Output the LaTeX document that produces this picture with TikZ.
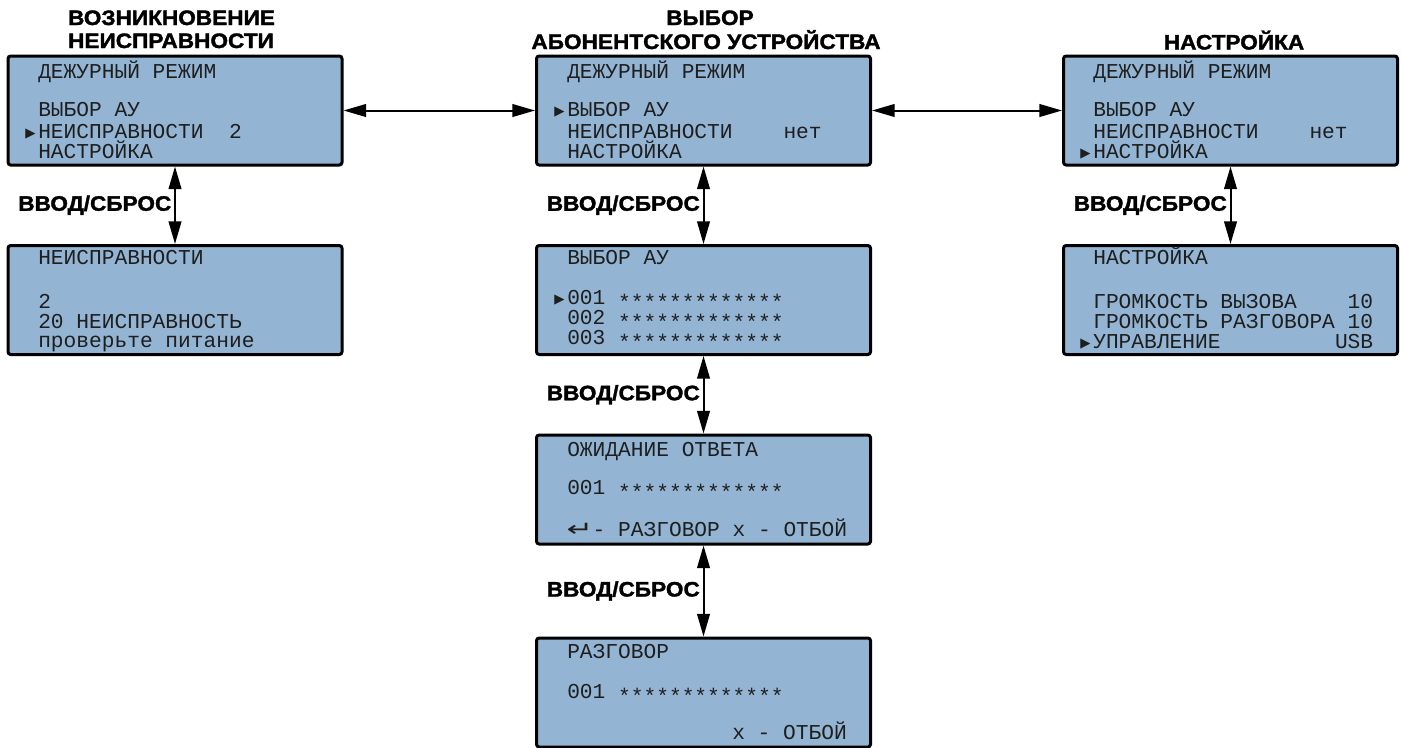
\documentclass[tikz,border=0pt]{standalone}
\usepackage{fontspec}
\usetikzlibrary{arrows.meta}

\newfontfamily\lcdfont{Liberation Mono}
\newfontfamily\headfont{Liberation Sans}[FakeStretch=1.08,FakeBold=1.6]
\newfontfamily\symfont{DejaVu Sans}

\definecolor{lcdblue}{HTML}{93B5D3}
\definecolor{lcdink}{HTML}{1E1E1E}

\newcommand*{\lcdcursor}{\llap{\symfont\fontsize{10}{10}\selectfont\raisebox{0.05em}{▶}\hspace{2pt}}}
\newcommand*{\lcdstars}{\raisebox{-0.25em}{*************}}
\newcommand*{\lcdenter}{\makebox[1.2em][c]{\symfont\scalebox{1.5}[1]{↵}}}

\begin{document}
\begin{tikzpicture}
[
	x=0.75pt,
	y=-0.75pt,
	lcd/.style={draw,line width=2.25pt,rounded corners=2pt,fill=lcdblue,minimum width=250.5pt,minimum height=81.75pt,inner sep=0pt},
	lcdtext/.style={anchor=base west,inner sep=0pt,text=lcdink,font=\lcdfont\fontsize{15.9}{16}\selectfont},
	heading/.style={anchor=base,inner sep=0pt,font=\headfont\bfseries\fontsize{15.7}{17}\selectfont},
	keylabel/.style={midway,left,inner sep=2pt,font=\headfont\bfseries\fontsize{15.7}{17}\selectfont},
	link/.style={{Triangle[length=17pt,width=9.5pt]}-{Triangle[length=17pt,width=9.5pt]},line width=1.5pt}
]
	\useasboundingbox (0,0) rectangle (1402,747);

	% screens
	\node[lcd] (fault) at (175,110.5) {};
	\node[lcd] (faultlist) at (175,300) {};
	\node[lcd] (select) at (703.5,110.5) {};
	\node[lcd] (devlist) at (703.5,300) {};
	\node[lcd] (wait) at (703.5,489.5) {};
	\node[lcd] (talk) at (703.5,692.5) {};
	\node[lcd] (setup) at (1230.5,110.5) {};
	\node[lcd] (setuplist) at (1230.5,300) {};

	% headings
	\node[heading] (h-fault-1) at (171.5,25) {ВОЗНИКНОВЕНИЕ};
	\node[heading] (h-fault-2) at (171,48) {НЕИСПРАВНОСТИ};
	\node[heading] (h-select-1) at (710,25) {ВЫБОР};
	\node[heading] (h-select-2) at (706,49) {АБОНЕНТСКОГО УСТРОЙСТВА};
	\node[heading] (h-setup) at (1234,49.5) {НАСТРОЙКА};

	% transitions
	\draw[link] (fault.east) -- (select.west);
	\draw[link] (select.east) -- (setup.west);
	\draw[link] (fault) -- (faultlist) node[keylabel] {ВВОД/СБРОС};
	\draw[link] (select) -- (devlist) node[keylabel] {ВВОД/СБРОС};
	\draw[link] (devlist) -- (wait) node[keylabel] {ВВОД/СБРОС};
	\draw[link] (wait) -- (talk) node[keylabel] {ВВОД/СБРОС};
	\draw[link] (setup) -- (setuplist) node[keylabel] {ВВОД/СБРОС};

	% fault screens
	\node[lcdtext] (fault-1) at (38,78) {ДЕЖУРНЫЙ РЕЖИМ};
	\node[lcdtext] (fault-2) at (38,116) {ВЫБОР АУ};
	\node[lcdtext] (fault-3) at (38,138) {\lcdcursor НЕИСПРАВНОСТИ~~2};
	\node[lcdtext] (fault-4) at (38,158) {НАСТРОЙКА};
	\node[lcdtext] (faultlist-1) at (38,264) {НЕИСПРАВНОСТИ};
	\node[lcdtext] (faultlist-2) at (38,308) {2};
	\node[lcdtext] (faultlist-3) at (38,328) {20 НЕИСПРАВНОСТЬ};
	\node[lcdtext] (faultlist-4) at (38,347) {проверьте питание};

	% device screens
	\node[lcdtext] (select-1) at (567,78) {ДЕЖУРНЫЙ РЕЖИМ};
	\node[lcdtext] (select-2) at (567,116) {\lcdcursor ВЫБОР АУ};
	\node[lcdtext] (select-3) at (567,138) {НЕИСПРАВНОСТИ~~~~нет};
	\node[lcdtext] (select-4) at (567,158) {НАСТРОЙКА};
	\node[lcdtext] (devlist-1) at (567,264) {ВЫБОР АУ};
	\node[lcdtext] (devlist-2) at (567,304) {\lcdcursor 001 \lcdstars};
	\node[lcdtext] (devlist-3) at (567,324) {002 \lcdstars};
	\node[lcdtext] (devlist-4) at (567,344) {003 \lcdstars};
	\node[lcdtext] (wait-1) at (567,456) {ОЖИДАНИЕ ОТВЕТА};
	\node[lcdtext] (wait-2) at (567,494) {001 \lcdstars};
	\node[lcdtext] (wait-3) at (567,536) {\lcdenter- РАЗГОВОР x - ОТБОЙ};
	\node[lcdtext] (talk-1) at (567,658) {РАЗГОВОР};
	\node[lcdtext] (talk-2) at (567,698) {001 \lcdstars};
	\node[lcdtext] (talk-3) at (732,739) {x - ОТБОЙ};

	% settings screens
	\node[lcdtext] (setup-1) at (1093,78) {ДЕЖУРНЫЙ РЕЖИМ};
	\node[lcdtext] (setup-2) at (1093,116) {ВЫБОР АУ};
	\node[lcdtext] (setup-3) at (1093,138) {НЕИСПРАВНОСТИ~~~~нет};
	\node[lcdtext] (setup-4) at (1093,158) {\lcdcursor НАСТРОЙКА};
	\node[lcdtext] (setuplist-1) at (1093,264) {НАСТРОЙКА};
	\node[lcdtext] (setuplist-2) at (1093,308) {ГРОМКОСТЬ ВЫЗОВА~~~~10};
	\node[lcdtext] (setuplist-3) at (1093,328) {ГРОМКОСТЬ РАЗГОВОРА 10};
	\node[lcdtext] (setuplist-4) at (1093,348) {\lcdcursor УПРАВЛЕНИЕ~~~~~~~~~USB};

\end{tikzpicture}
\end{document}
